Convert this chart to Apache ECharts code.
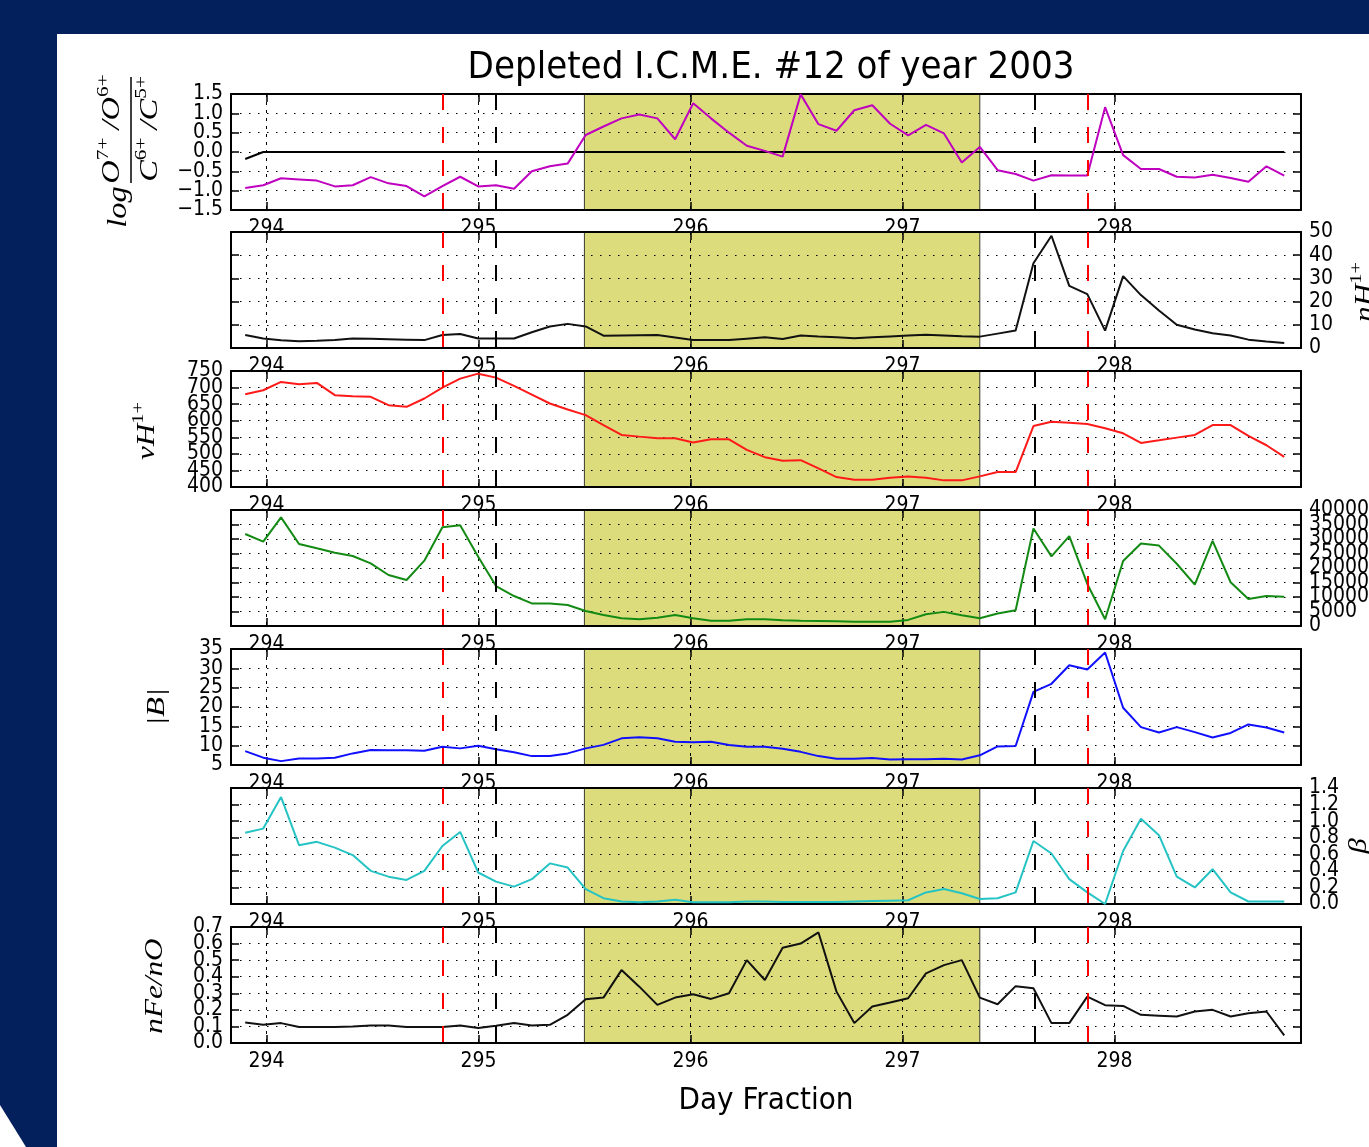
<!DOCTYPE html>
<html><head><meta charset="utf-8">
<script src="https://cdn.jsdelivr.net/npm/echarts@6/dist/echarts.min.js"></script>
<style>
html,body{margin:0;padding:0;background:#031f5c;width:1369px;height:1147px;overflow:hidden;}
#bg{position:absolute;left:57px;top:34px;width:1312px;height:1113px;background:#fff;}
#corner{position:absolute;left:0;top:1105px;width:26px;height:42px;background:#fff;clip-path:polygon(0 0,100% 100%,0 100%);}
#chart{position:absolute;left:0;top:0;width:1369px;height:1147px;}
</style></head><body>
<div id="bg"></div><div id="corner"></div><div id="chart"></div>
<script>
// ---------------- data ----------------
const days = [293.900,293.985,294.069,294.154,294.238,294.323,294.407,294.492,294.576,294.661,
  294.745,294.830,294.914,294.999,295.083,295.168,295.252,295.337,295.421,295.506,
  295.590,295.675,295.759,295.844,295.928,296.013,296.097,296.182,296.266,296.351,
  296.435,296.520,296.604,296.689,296.773,296.858,296.942,297.027,297.111,297.196,
  297.280,297.365,297.449,297.534,297.618,297.703,297.787,297.872,297.956,298.041,
  298.125,298.210,298.294,298.379,298.463,298.548,298.632,298.717,298.801];
const oxCarbonRatio = [-0.93,-0.86,-0.68,-0.71,-0.74,-0.89,-0.86,-0.65,-0.81,-0.88,
  -1.15,-0.88,-0.64,-0.89,-0.86,-0.95,-0.50,-0.37,-0.30,0.44,
  0.66,0.87,0.97,0.87,0.33,1.26,0.87,0.50,0.16,0.03,
  -0.12,1.49,0.72,0.55,1.08,1.21,0.73,0.43,0.70,0.48,
  -0.27,0.13,-0.47,-0.57,-0.74,-0.60,-0.61,-0.61,1.16,-0.08,
  -0.44,-0.44,-0.64,-0.66,-0.59,-0.67,-0.77,-0.37,-0.61];
const refDays = [293.900,293.985,298.801];
const refVals = [-0.18,0,0];
const nH = [5.6,4.1,3.3,2.9,3.1,3.4,4.1,4.0,3.8,3.6,
  3.4,5.6,6.0,4.1,4.1,4.1,6.8,9.3,10.4,9.3,
  5.3,5.4,5.5,5.6,4.5,3.4,3.5,3.4,4.0,4.6,
  3.9,5.4,5.0,4.6,4.2,4.6,5.0,5.4,5.7,5.4,
  5.1,4.9,6.2,7.5,36.5,48.4,26.8,23.2,7.5,31.0,
  22.8,16.2,10.0,8.0,6.4,5.4,3.6,2.8,2.2];
const vH = [680,692,717,710,714,677,674,672,647,642,
  667,700,727,742,730,705,679,652,634,617,
  587,557,552,547,547,534,544,544,512,490,
  479,481,456,430,422,422,428,432,428,420,
  420,432,445,445,584,597,594,590,577,562,
  533,541,549,557,587,587,554,526,491];
const thermal = [31720,29080,37470,28270,26780,25290,24140,21600,17590,15860,
  22530,34020,34710,23900,13790,10340,7800,7800,7240,5170,
  3790,2640,2300,2870,3790,2640,1840,1840,2300,2300,
  2000,1800,1700,1600,1500,1500,1500,2100,4060,4870,
  3710,2670,4290,5450,33640,24010,30980,14500,2320,22390,
  28420,27730,21460,14270,29350,15080,9280,10330,10090];
const bMag = [8.6,6.9,6.0,6.7,6.7,6.9,8.0,8.9,8.8,8.8,
  8.7,9.7,9.3,10.0,9.1,8.3,7.3,7.3,8.0,9.3,
  10.2,11.9,12.2,11.9,11.0,10.9,11.0,10.2,9.7,9.7,
  9.2,8.4,7.3,6.6,6.6,6.8,6.4,6.5,6.5,6.6,
  6.4,7.5,9.8,9.9,23.9,26.0,30.8,29.7,34.1,19.8,
  14.8,13.4,14.8,13.5,12.1,13.3,15.5,14.7,13.4];
const beta = [0.86,0.91,1.29,0.71,0.75,0.68,0.59,0.40,0.33,0.29,
  0.40,0.70,0.87,0.38,0.27,0.21,0.30,0.49,0.44,0.18,
  0.07,0.03,0.02,0.03,0.05,0.02,0.02,0.02,0.03,0.03,
  0.025,0.025,0.025,0.025,0.03,0.035,0.04,0.045,0.14,0.18,
  0.13,0.06,0.07,0.14,0.76,0.61,0.30,0.14,0.0,0.64,
  1.03,0.83,0.33,0.20,0.42,0.14,0.03,0.03,0.03];
const feO = [0.124,0.11,0.12,0.096,0.096,0.096,0.10,0.106,0.106,0.096,
  0.096,0.096,0.106,0.09,0.104,0.12,0.106,0.11,0.17,0.264,
  0.274,0.44,0.34,0.23,0.274,0.294,0.266,0.30,0.50,0.38,
  0.575,0.60,0.667,0.31,0.12,0.22,0.244,0.27,0.42,0.47,
  0.50,0.274,0.234,0.343,0.33,0.12,0.12,0.28,0.228,0.224,
  0.17,0.165,0.16,0.19,0.20,0.16,0.18,0.19,0.046];
const redEvents = [294.833,297.875];
const blackEvents = [295.083,297.625];
const icmeSpan = [295.5,297.365];
const dayRange = [293.833,298.88];
const titleText = 'Depleted I.C.M.E. #12 of year 2003';
const xTitle = 'Day Fraction';

// ---------------- layout / style ----------------
const FONT = "'DejaVu Sans Condensed','Liberation Sans Narrow','DejaVu Sans',sans-serif";
const MATH = "'Liberation Serif','DejaVu Serif',serif";
const tops = [94,232,371,510,649,788,927];
const H = 116, LEFT = 231, RIGHT = 68;
const dec1 = v => (v < -1e-9 ? '\u2212' : '') + Math.abs(v).toFixed(1);
const int0 = v => String(Math.round(v));
const panels = [
  {vals: oxCarbonRatio, color:'#bf00bf', min:-1.5, max:1.5, step:0.5, side:'left', fmt:dec1},
  {vals: nH, color:'#111111', min:0, max:50, step:10, side:'right', fmt:int0},
  {vals: vH, color:'#ff1a1a', min:400, max:750, step:50, side:'left', fmt:int0},
  {vals: thermal, color:'#138a13', min:0, max:40000, step:5000, side:'right', fmt:int0},
  {vals: bMag, color:'#1010ff', min:5, max:35, step:5, side:'left', fmt:int0},
  {vals: beta, color:'#25c3c3', min:0, max:1.4, step:0.2, side:'right', fmt:dec1},
  {vals: feO, color:'#111111', min:0, max:0.7, step:0.1, side:'left', fmt:dec1}
];

const grids = [], xAxes = [], yAxes = [], series = [];
const axisLineStyle = {show:true, onZero:false, lineStyle:{color:'#000', width:2}};
const noLine = {show:false, onZero:false};
const tickStyle = {show:true, inside:true, length:8, lineStyle:{color:'#000', width:1.5}};
const TICK_FS = 21;
panels.forEach((p, i) => {
  grids.push({left:LEFT, right:RIGHT, top:tops[i], height:H, show:true, backgroundColor:'#ffffff',
    borderWidth:0, z:1, containLabel:false, outerBoundsMode:'none'});
  // label-only bottom axis (drawn beneath the next panel's white background)
  xAxes.push({type:'value', gridIndex:i, position:'bottom', min:dayRange[0], max:dayRange[1], splitNumber:5, z:0,
    axisLine:noLine, axisTick:{show:false}, splitLine:{show:false},
    axisLabel:{show:true, margin:8, color:'#000', fontSize:TICK_FS, fontFamily:FONT, hideOverlap:false,
      formatter: v => Math.abs(v - Math.round(v)) < 1e-6 ? String(Math.round(v)) : ''}});
  // bottom axis with frame, ticks and grid lines
  xAxes.push({type:'value', gridIndex:i, position:'bottom', min:dayRange[0], max:dayRange[1], splitNumber:5, z:3,
    axisLine:axisLineStyle, axisTick:tickStyle, axisLabel:{show:false},
    splitLine:{show:true, lineStyle:{color:'#000', width:1, type:[3,5]}}});
  // top frame
  xAxes.push({type:'value', gridIndex:i, position:'top', min:dayRange[0], max:dayRange[1], splitNumber:5, z:3,
    axisLine:axisLineStyle, axisTick:tickStyle, axisLabel:{show:false}, splitLine:{show:false}});

  // y tick labels are split between two axes (alternate ticks) so that the
  // tightly packed labels are all kept, as in the original figure
  const kMax = Math.round((p.max - p.min) / p.step);
  const lab = (show, parity) => ({show: show, color:'#000', fontSize:TICK_FS, fontFamily:FONT, margin:8,
    hideOverlap:false, showMinLabel: parity === 0, showMaxLabel: (kMax % 2) === parity,
    formatter: v => (Math.round((v - p.min) / p.step) % 2 === parity) ? p.fmt(v) : ''});
  yAxes.push({type:'value', gridIndex:i, position:'left', min:p.min, max:p.max, interval:p.step, z:3,
    axisLine:axisLineStyle, axisTick:tickStyle, axisLabel:lab(p.side === 'left', 0),
    splitLine:{show:true, lineStyle:{color:'#000', width:1.2, type:[1.5,7.5]}}});
  yAxes.push({type:'value', gridIndex:i, position:'right', min:p.min, max:p.max, interval:p.step, z:3,
    axisLine:axisLineStyle, axisTick:tickStyle, axisLabel:lab(p.side === 'right', 0), splitLine:{show:false}});
  yAxes.push({type:'value', gridIndex:i, position:p.side, offset:0, min:p.min, max:p.max, interval:p.step, z:3,
    axisLine:noLine, axisTick:{show:false}, splitLine:{show:false}, axisLabel:lab(true, 1)});

  const xi = i*3 + 1, yi = i*3;
  series.push({type:'line', xAxisIndex:xi, yAxisIndex:yi, z:2, silent:true, data:[],
    markArea:{silent:true, itemStyle:{color:'#dcdc7c', borderColor:'#3c3c30', borderWidth:1},
      data:[[{xAxis:icmeSpan[0]},{xAxis:icmeSpan[1]}]]}});
  if (i === 0) {
    series.push({type:'line', xAxisIndex:xi, yAxisIndex:yi, z:4, silent:true, showSymbol:false,
      data: refDays.map((d,k) => [d, refVals[k]]), lineStyle:{color:'#000', width:2}});
  }
  const ev = [];
  redEvents.forEach(d => ev.push([{coord:[d, p.max], lineStyle:{color:'#ff0000', width:2, type:[16,17]}}, {coord:[d, p.min]}]));
  blackEvents.forEach(d => ev.push([{coord:[d, p.max], lineStyle:{color:'#000', width:2, type:[16,17]}}, {coord:[d, p.min]}]));
  series.push({type:'line', xAxisIndex:xi, yAxisIndex:yi, z:4, silent:true, showSymbol:false,
    data: days.map((d,k) => [d, p.vals[k]]), lineStyle:{color:p.color, width:2},
    markLine:{silent:true, symbol:'none', label:{show:false}, animation:false, data:ev}});
});

// y-axis names (math-style labels), rotated to read upward
const big = {fontFamily:MATH, fontStyle:'italic', fontSize:26, lineHeight:34, color:'#000'};
const upr = {fontFamily:MATH, fontSize:17, lineHeight:17, verticalAlign:'top', color:'#000'};
function rotLabel(x, y, text, sx) {
  return {type:'group', x:x, y:y, rotation:Math.PI/2, silent:true, children:[
    {type:'text', x:0, y:0, scaleX:sx || 1.2, style:{text:text, rich:{b:big, s:upr}, align:'center', verticalAlign:'bottom', fill:'#000',
      font:"italic 26px " + MATH}}]};
}
const graphics = [
  {type:'group', x:131, y:150, rotation:Math.PI/2, silent:true, children:[
    {type:'text', x:-57, y:-12, scaleX:1.2, style:{text:'log', font:"italic 27px " + MATH, fill:'#000', align:'center', verticalAlign:'middle'}},
    {type:'line', shape:{x1:-33, y1:0, x2:73, y2:0}, style:{stroke:'#000', lineWidth:1.5}},
    {type:'text', x:21, y:-2, scaleX:1.25, style:{text:'{b|O}{s|7+}{b| /O}{s|6+}', rich:{b:big, s:upr}, align:'center', verticalAlign:'bottom', fill:'#000', font:"italic 26px " + MATH}},
    {type:'text', x:21, y:2, scaleX:1.25, style:{text:'{b|C}{s|6+}{b| /C}{s|5+}', rich:{b:big, s:upr}, align:'center', verticalAlign:'top', fill:'#000', font:"italic 26px " + MATH}}
  ]},
  rotLabel(164, 431, '{b|vH}{s|1+}', 1.2),
  rotLabel(174, 707, '{b||B|}', 1.25),
  rotLabel(172, 986, '{b|nFe/nO}', 1.2),
  rotLabel(1382, 292, '{b|nH}{s|1+}', 1.2),
  rotLabel(1376, 846, '{b|β}', 1.2)
];

const chart = echarts.init(document.getElementById('chart'), null, {renderer:'canvas'});
xAxes[18].name = xTitle;
xAxes[18].nameLocation = 'middle';
xAxes[18].nameGap = 42;
xAxes[18].nameTextStyle = {fontSize:31, fontFamily:FONT, color:'#000'};
chart.setOption({
  backgroundColor:'transparent',
  animation:false,
  title:{text:titleText, left:766, top:44, textAlign:'center',
    textStyle:{fontSize:38, fontWeight:'normal', fontFamily:FONT, color:'#000'}},
  grid: grids,
  xAxis: xAxes,
  yAxis: yAxes,
  series: series,
  graphic: graphics
});
</script>
</body></html>
